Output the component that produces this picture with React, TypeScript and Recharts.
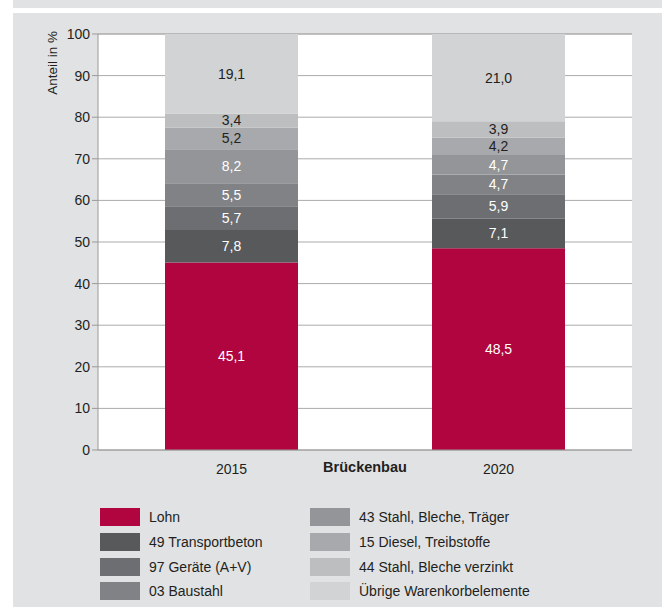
import React from 'react';
import { BarChart, Bar, XAxis, YAxis, CartesianGrid, LabelList, Label } from 'recharts';

const years = ['2015', '2020'];

const seriesNames = [
  'Lohn',
  '49 Transportbeton',
  '97 Geräte (A+V)',
  '03 Baustahl',
  '43 Stahl, Bleche, Träger',
  '15 Diesel, Treibstoffe',
  '44 Stahl, Bleche verzinkt',
  'Übrige Warenkorbelemente',
];

const values2015 = [45.1, 7.8, 5.7, 5.5, 8.2, 5.2, 3.4, 19.1];
const values2020 = [48.5, 7.1, 5.9, 4.7, 4.7, 4.2, 3.9, 21.0];

const yTicks = [0, 10, 20, 30, 40, 50, 60, 70, 80, 90, 100];

const colors = ['#b0053f', '#58595b', '#6d6e71', '#808285', '#939598', '#a7a9ac', '#bcbec0', '#d1d3d4'];
const labelColors = ['#fff', '#fff', '#fff', '#fff', '#fff', '#231f20', '#231f20', '#231f20'];

const FONT = '"Liberation Sans", Arial, sans-serif';
const PANEL = '#e1e2e4';
const TEXT = '#231f20';

const allValues = [values2015, values2020];
const data = years.map((year, yi) => {
  const row: { [k: string]: number | string } = { year };
  seriesNames.forEach((name, i) => {
    row[`s${i}`] = allValues[yi][i];
  });
  return row;
});

const fmt = (v: any) => Number(v).toFixed(1).replace('.', ',');

const YLabel = (props: any) => {
  const { viewBox } = props;
  const x = viewBox.x + 19.5;
  const y = viewBox.y - 3;
  return (
    <text
      x={x}
      y={y}
      transform={`rotate(-90, ${x}, ${y})`}
      textAnchor="end"
      dominantBaseline="central"
      fontSize={13.5}
      fill={TEXT}
      fontFamily={FONT}
    >
      Anteil in %
    </text>
  );
};

const LegendBlock = () => {
  const cols = [seriesNames.slice(0, 4), seriesNames.slice(4)];
  return (
    <div style={{ position: 'absolute', left: 87, top: 492, display: 'flex', fontFamily: FONT, fontSize: 14, color: TEXT }}>
      {cols.map((col, ci) => (
        <div key={ci} style={{ width: 210 }}>
          {col.map((name) => {
            const idx = seriesNames.indexOf(name);
            return (
              <div key={name} style={{ display: 'flex', alignItems: 'center', height: 24.7, whiteSpace: 'nowrap' }}>
                <div style={{ width: 40, height: 18, background: colors[idx], marginRight: 9, flexShrink: 0 }} />
                <span>{name}</span>
              </div>
            );
          })}
        </div>
      ))}
    </div>
  );
};

export default function App() {
  return (
    <div style={{ position: 'absolute', left: 0, top: 0, width: 664, height: 607, background: '#fff', overflow: 'hidden' }}>
      <div style={{ position: 'absolute', left: 13, top: 0, width: 649, height: 8, background: PANEL }} />
      <div style={{ position: 'absolute', left: 13, top: 13, width: 649, height: 594, background: PANEL }}>
        <BarChart
          width={649}
          height={480}
          data={data}
          margin={{ top: 21, right: 30, left: 20, bottom: 9 }}
          barCategoryGap={0}
          style={{ fontFamily: FONT }}
        >
          <CartesianGrid vertical={false} stroke="#ababab" fill="#fff" />
          <XAxis
            dataKey="year"
            axisLine={{ stroke: '#9a9a9a' }}
            tickLine={false}
            tickMargin={8}
            height={34}
            tick={{ fontSize: 14, fill: TEXT }}
          >
            <Label value="Brückenbau" position="center" fontSize={14.5} fontWeight="bold" fill={TEXT} />
          </XAxis>
          <YAxis
            domain={[0, 100]}
            ticks={yTicks}
            width={65}
            interval={0}
            axisLine={{ stroke: '#9a9a9a' }}
            tickLine={{ stroke: '#9a9a9a' }}
            tickSize={6}
            tick={{ fontSize: 14, fill: TEXT }}
            label={<YLabel />}
          />
          {seriesNames.map((name, i) => (
            <Bar
              key={name}
              dataKey={`s${i}`}
              name={name}
              stackId="a"
              fill={colors[i]}
              barSize={133}
              isAnimationActive={false}
            >
              <LabelList dataKey={`s${i}`} position="center" formatter={fmt} fill={labelColors[i]} fontSize={14} />
            </Bar>
          ))}
        </BarChart>
        <LegendBlock />
      </div>
    </div>
  );
}
